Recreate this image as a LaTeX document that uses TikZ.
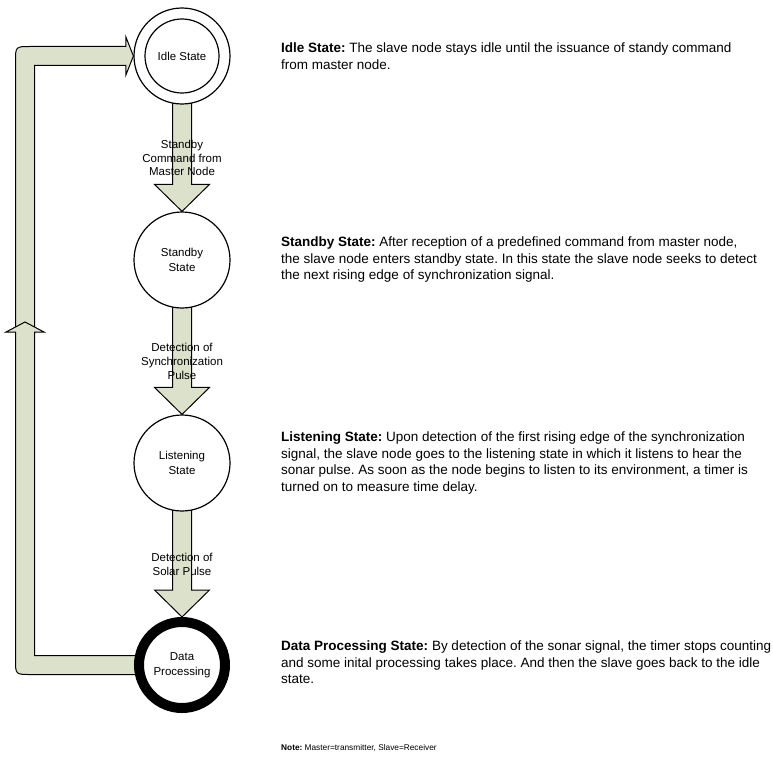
\documentclass[tikz,border=0pt]{standalone}
\usepackage{fontspec}
\setmainfont{Liberation Sans}
\usepackage{tikz}
\usetikzlibrary{calc,backgrounds,positioning}
\definecolor{arrowfill}{RGB}{220,225,203}
\frenchspacing
\tikzset{
  statenode/.style={circle,draw=black,line width=1.2pt,fill=white,minimum size=96pt,inner sep=0pt,align=center,font=\fontsize{11.5}{14.5}\selectfont},
  finalstate/.style={statenode,line width=10pt,minimum size=86pt},
  fatarrow/.style={draw=black,line width=1pt,fill=arrowfill,line join=miter},
  arrowlabel/.style={align=center,inner sep=0pt,font=\fontsize{11.5}{13.8}\selectfont},
  desctext/.style={anchor=north west,inner sep=0pt,align=left,font=\fontsize{13.5}{16.4}\selectfont},
}
\begin{document}
\begin{tikzpicture}[x=1pt,y=-1pt]
\useasboundingbox (0,0) rectangle (773,757);
%Zustaende
\node[statenode] (idle) at (182,56) {Idle State};
\draw[line width=1.2pt] (idle) circle[radius=37];
\node[statenode] (standby) at (182,260) {Standby\\State};
\node[statenode] (listening) at (182,463) {Listening\\State};
\node[finalstate] (dataproc) at (182,665) {Data\\Processing};
%Ruecklauf links
\coordinate (backlow) at (25,665);
\coordinate (backmid) at (25,322);
\coordinate (backtop) at (25,56);
\begin{scope}[on background layer]
\foreach \von/\nach/\txt in {idle/standby/{Standby\\Command from\\Master Node},standby/listening/{Detection of\\Synchronization\\Pulse},listening/dataproc/{Detection of\\Solar Pulse}}{
  \draw[fatarrow] ($(\von)+(-9.5,0)$) -- ($(\nach.north)+(-9.5,-27)$) -- ++(-18,0) -- (\nach.north) -- ++(27.5,-27) -- ++(-18,0) -- ($(\von)+(9.5,0)$) -- cycle;
  \path (\von.south) -- node[arrowlabel] {\txt} (\nach.north);
}
%oberes Stueck zuerst, das untere mit der Spitze liegt darueber
\draw[fatarrow] ($(backmid)+(-9.5,11)$) -- ($(backtop)+(-9.5,5.5)$) .. controls ($(backtop)+(-9.5,-9.5)$) .. ($(backtop)+(5.5,-9.5)$) -- ($(idle.west)+(-7.5,-9.5)$) -- ++(0,-9.5) -- (idle.west) -- ($(idle.west)+(-7.5,19)$) -- ++(0,-9.5) -- ($(backtop)+(9.5,9.5)$) -- ($(backmid)+(9.5,11)$) -- cycle;
\draw[fatarrow] ($(dataproc)+(0,9.5)$) -- ($(backlow)+(5.5,9.5)$) .. controls ($(backlow)+(-9.5,9.5)$) .. ($(backlow)+(-9.5,-5.5)$) -- ($(backmid)+(-9.5,10)$) -- ++(-9.5,0) -- (backmid) -- ($(backmid)+(19,10)$) -- ++(-9.5,0) -- ($(backlow)+(9.5,-9.5)$) -- ($(dataproc)+(0,-9.5)$) -- cycle;
\end{scope}
%Beschreibungen rechts
\node[desctext] (idledesc) at (281,43) {\textbf{Idle State:} The slave node stays idle until the issuance of standy command\\from master node.};
\node[desctext] (standbydesc) at (281,237) {\textbf{Standby State:} After reception of a predefined command from master node,\\the slave node enters standby state. In this state the slave node seeks to detect\\the next rising edge of synchronization signal.};
\node[desctext] (listeningdesc) at (281,432) {\textbf{Listening State:} Upon detection of the first rising edge of the synchronization\\signal, the slave node goes to the listening state in which it listens to hear the\\sonar pulse. As soon as the node begins to listen to its environment, a timer is\\turned on to measure time delay.};
\node[desctext] (dataprocdesc) at (281,641) {\textbf{Data Processing State:} By detection of the sonar signal, the timer stops counting\\and some inital processing takes place. And then the slave goes back to the idle\\state.};
\node[desctext,font=\fontsize{8.3}{10}\selectfont] (note) at (281,744) {\textbf{Note:} Master=transmitter, Slave=Receiver};
\end{tikzpicture}
\end{document}
